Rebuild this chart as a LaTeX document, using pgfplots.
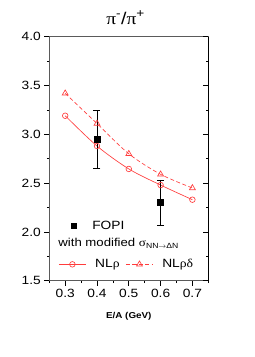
\documentclass[border=0pt]{standalone}
\usepackage{fontspec}
\setmainfont[FakeStretch=1.15]{Liberation Sans}
\newfontfamily\grk[FakeStretch=1.15]{Liberation Serif}
\usepackage{pgfplots}
\pgfplotsset{compat=1.18}
\definecolor{myred}{RGB}{255,60,60}
\definecolor{axgray}{RGB}{90,90,90}
\begin{document}
\begin{tikzpicture}
\path[use as bounding box] (-49.3bp,-76.3bp) rectangle (205.7bp,280.7bp);
\begin{axis}[
  scale only axis, width=159bp, height=244bp,
  xmin=0.25, xmax=0.75, ymin=1.5, ymax=4.0,
  xtick={0.3,0.4,0.5,0.6,0.7},
  xticklabels={0.3,0.4,0.5,0.6,0.7},
  minor xtick={0.25,0.35,0.45,0.55,0.65,0.75},
  ytick={1.5,2.0,2.5,3.0,3.5,4.0},
  yticklabels={1.5,2.0,2.5,3.0,3.5,4.0},
  minor ytick={1.75,2.25,2.75,3.25,3.75},
  xtick pos=bottom, ytick pos=left, tick align=outside,
  major tick length=5bp, minor tick length=2.5bp,
  tick style={black, line width=0.6bp},
  axis line style={axgray, line width=0.9bp},
  /pgf/number format/assume math mode=true,
  every tick label/.append style={font=\fontsize{12}{14}\selectfont},
  xlabel={\textbf{E/A (GeV)}},
  xlabel style={at={(axis description cs:0.5,0)}, anchor=base, yshift=-37.6bp, font=\fontsize{8.6}{10}\selectfont},
  title={{\grk π}\textsuperscript{-}/{\grk π}\textsuperscript{+}},
  title style={at={(axis description cs:0.48,1)}, anchor=base, yshift=6.7bp, font=\fontsize{17}{20}\selectfont},
  legend columns=2,
  legend cell align=left,
  legend image code/.code={\draw[mark repeat=2,mark phase=2,#1] plot coordinates {(0bp,0bp)(13.5bp,0bp)(27bp,0bp)};},
  legend style={at={(0.057,0.067)}, anchor=west, draw=none, fill=none, inner sep=0pt,
    nodes={inner sep=0pt},
    font=\fontsize{12}{14}\selectfont,
    /tikz/every odd column/.append style={column sep=9bp},
    /tikz/every even column/.append style={column sep=6bp}},
]
\addplot[myred, line width=0.65bp, mark=o, mark size=2.8bp, smooth] coordinates {(0.3,3.19)(0.4,2.88)(0.5,2.645)(0.6,2.48)(0.7,2.33)};
\addlegendentry{NL{\grk ρ}}
\addplot[myred, line width=0.65bp, dash pattern=on 4bp off 2.5bp, mark=triangle, mark options={solid}, mark size=3.4bp, smooth] coordinates {(0.3,3.42)(0.4,3.11)(0.5,2.80)(0.6,2.59)(0.7,2.45)};
\addlegendentry{NL{\grk ρδ}}
\addplot[black, only marks, mark=square*, mark size=3bp, forget plot,
  error bars/.cd, y dir=both, y explicit, error bar style={line width=0.7bp}, error mark=|, error mark options={mark size=3.5bp, line width=0.7bp}]
  coordinates {(0.4,2.95) +- (0,0.30) (0.6,2.30) +- (0,0.23)};
\node[anchor=base west, inner sep=0pt, font=\fontsize{11.5}{14}\selectfont] at (axis cs:0.278,1.848)
  {with modified {\grk σ}\textsubscript{\fontsize{7.5}{9}\selectfont NN$\rightarrow$ΔN}};
\end{axis}
\begin{axis}[
  scale only axis, width=159bp, height=244bp,
  xmin=0.25, xmax=0.75, ymin=1.5, ymax=4.0,
  axis x line=none, axis y line*=right,
  ytick={1.5,2.0,2.5,3.0,3.5,4.0}, yticklabels={},
  minor ytick={1.75,2.25,2.75,3.25,3.75},
  tick align=inside,
  major tick length=5bp, minor tick length=2.5bp,
  tick style={black, line width=0.6bp},
  axis line style={black, line width=0.9bp},
  legend image code/.code={\draw[#1] plot coordinates {(0bp,0bp)}; \path (-3bp,0bp) (3bp,0bp);},
  legend style={at={(0.132,0.224)}, anchor=west, draw=none, fill=none, inner sep=0pt,
    nodes={inner sep=0pt},
    /tikz/every odd column/.append style={column sep=15.4bp},
    font=\fontsize{12}{14}\selectfont},
]
\addlegendimage{black, only marks, mark=square*, mark size=2.5bp}
\addlegendentry{FOPI}
\end{axis}
\end{tikzpicture}
\end{document}
